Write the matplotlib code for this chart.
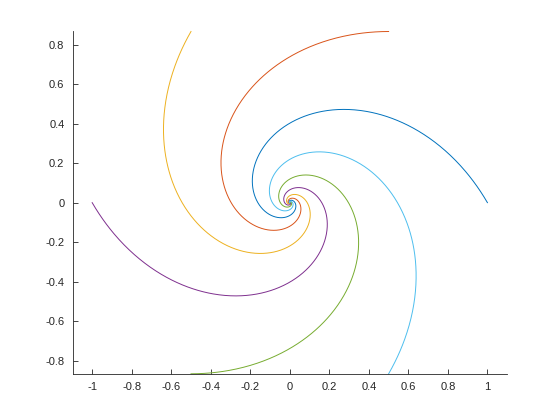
import numpy as np
import matplotlib
matplotlib.use('Agg')
import matplotlib.pyplot as plt

# six log spirals, r = exp(-k*t), starting on the unit circle
start_angles_deg = [0, 60, 120, 180, 240, 300]
growth_rate = 0.58
turns = 3.5
colors = ['#0072BD', '#D95319', '#EDB120', '#7E2F8E', '#77AC30', '#4DBEEE']

xticks = [-1, -0.8, -0.6, -0.4, -0.2, 0, 0.2, 0.4, 0.6, 0.8, 1]
yticks = [-0.8, -0.6, -0.4, -0.2, 0, 0.2, 0.4, 0.6, 0.8]

plt.rcParams['font.family'] = ['Liberation Sans', 'DejaVu Sans']

fig = plt.figure(figsize=(5.6, 4.2), dpi=100)
ax = fig.add_axes([0.13, 0.11, 0.775, 0.815])

t = np.linspace(0, turns * 2 * np.pi, 3000)
r = np.exp(-growth_rate * t)
for a, c in zip(start_angles_deg, colors):
    th = np.deg2rad(a) + t
    ax.plot(r * np.cos(th), r * np.sin(th), color=c, lw=0.7, clip_on=False)

ylim = np.sin(np.pi / 3)
ax.set_ylim(-ylim, ylim)
ax.set_xlim(-ylim * 434 / 342.3, ylim * 434 / 342.3)
ax.set_xticks(xticks)
ax.set_yticks(yticks)
ax.set_xticklabels([f'{v:g}' for v in xticks])
ax.set_yticklabels([f'{v:g}' for v in yticks])

for s in ['top', 'right']:
    ax.spines[s].set_visible(False)
for s in ['left', 'bottom']:
    ax.spines[s].set_color('#262626')
    ax.spines[s].set_linewidth(0.6)
ax.tick_params(direction='in', length=3.5, width=0.6, color='#262626',
               labelcolor='#262626', labelsize=8, pad=6)

fig.savefig('out.png')
